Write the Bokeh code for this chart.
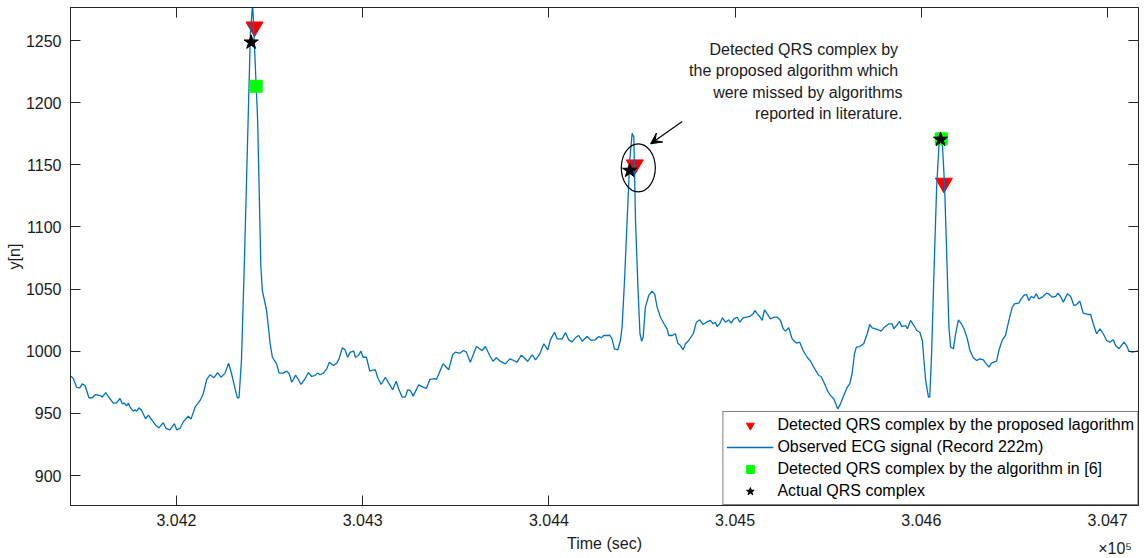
from bokeh.plotting import figure
from bokeh.models import (Range1d, FixedTicker, LinearAxis, Legend, LegendItem,
                          Label, Arrow, VeeHead)
from bokeh.embed import file_html
from bokeh.resources import INLINE

# ECG record 222m, observed samples
time_sec = [
    304143.4, 304144.6, 304146.4, 304148.2, 304149.4, 304150.9, 304153.0, 304154.8, 304156.6, 304159.0,
    304160.2, 304162.0, 304163.4, 304166.1, 304167.7, 304169.7, 304170.9, 304172.0, 304173.2, 304174.2,
    304175.1, 304176.8, 304177.8, 304178.6, 304179.9, 304181.3, 304183.4, 304184.9, 304186.7, 304188.8,
    304190.6, 304192.9, 304194.4, 304196.5, 304198.9, 304200.1, 304201.9, 304203.7, 304206.4, 304207.8,
    304210.0, 304212.7, 304214.4, 304216.2, 304218.0, 304220.2, 304222.1, 304223.9, 304226.1, 304228.0,
    304229.6, 304231.5, 304232.7, 304233.6, 304234.9, 304236.5, 304239.7, 304240.9, 304243.6, 304245.3,
    304246.1, 304248.4, 304250.3, 304251.5, 304253.8, 304255.1, 304257.4, 304259.2, 304260.5, 304261.9,
    304264.0, 304265.5, 304266.9, 304269.1, 304270.8, 304272.6, 304274.4, 304275.8, 304277.1, 304278.9,
    304280.7, 304282.1, 304284.3, 304286.0, 304287.3, 304289.1, 304290.5, 304291.9, 304293.4, 304295.2,
    304296.1, 304297.7, 304299.1, 304300.2, 304302.0, 304303.8, 304305.2, 304306.8, 304308.0, 304309.9,
    304312.2, 304314.0, 304316.1, 304318.0, 304319.3, 304321.2, 304322.9, 304324.2, 304325.6, 304327.1,
    304330.1, 304332.4, 304334.2, 304336.0, 304338.5, 304339.6, 304343.2, 304346.2, 304348.3, 304349.8,
    304352.1, 304354.2, 304355.7, 304357.8, 304361.1, 304364.1, 304365.9, 304368.2, 304370.0, 304371.8,
    304374.0, 304376.6, 304379.0, 304381.0, 304382.9, 304385.1, 304386.8, 304388.6, 304391.0, 304392.8,
    304395.1, 304397.3, 304399.4, 304400.8, 304403.0, 304404.4, 304407.1, 304408.9, 304410.6, 304412.5,
    304414.2, 304416.0, 304417.9, 304420.5, 304422.7, 304424.8, 304426.8, 304428.2, 304429.4, 304431.6,
    304432.7, 304433.9, 304435.2, 304437.0, 304438.4, 304439.3, 304440.6, 304442.0, 304443.4, 304444.7,
    304445.6, 304446.5, 304447.8, 304448.9, 304449.8, 304450.6, 304451.8, 304453.6, 304455.4, 304456.8,
    304458.1, 304459.9, 304462.0, 304463.5, 304464.3, 304466.2, 304467.9, 304469.2, 304470.6, 304472.1,
    304473.3, 304475.1, 304477.5, 304479.2, 304481.0, 304482.8, 304484.6, 304486.7, 304488.2, 304489.4,
    304490.3, 304491.7, 304493.2, 304494.8, 304496.6, 304497.9, 304499.3, 304501.1, 304502.5, 304504.3,
    304506.1, 304507.9, 304509.7, 304510.6, 304511.9, 304513.2, 304514.5, 304515.8, 304517.2, 304519.0,
    304520.8, 304522.6, 304524.4, 304525.8, 304527.0, 304528.8, 304530.6, 304533.0, 304534.7, 304536.5,
    304538.7, 304540.5, 304542.2, 304544.9, 304546.2, 304548.0, 304549.7, 304551.2, 304553.0, 304555.1,
    304556.6, 304558.3, 304560.2, 304561.5, 304562.8, 304564.1, 304565.1, 304566.9, 304569.1, 304570.9,
    304572.3, 304573.6, 304575.4, 304576.5, 304578.4, 304580.2, 304582.5, 304584.3, 304585.2, 304586.7,
    304588.3, 304589.4, 304591.5, 304592.5, 304594.2, 304596.0, 304597.5, 304599.2, 304600.5, 304602.3,
    304603.8, 304604.5, 304605.5, 304606.8, 304608.2, 304609.5, 304610.4, 304611.3, 304612.5, 304613.6,
    304614.8, 304615.7, 304617.2, 304618.4, 304619.9, 304621.5, 304622.9, 304624.7, 304626.1, 304627.9,
    304629.7, 304631.4, 304633.3, 304634.5, 304636.3, 304637.6, 304639.0, 304640.4, 304641.6, 304643.4,
    304645.2, 304647.0, 304648.8, 304650.0, 304652.3, 304653.6, 304655.0, 304656.5, 304657.7, 304659.0,
    304660.4, 304661.7, 304663.1, 304664.9, 304667.2, 304668.5, 304670.3, 304672.1, 304673.3, 304674.8,
    304676.2, 304678.4, 304680.2, 304681.9, 304683.3, 304685.1, 304686.9, 304689.4, 304690.9, 304692.3,
    304694.1, 304695.9, 304697.7, 304699.5, 304701.2, 304703.1, 304704.3, 304706.1, 304708.8, 304710.2,
    304711.5, 304713.3, 304716.0, 304717.4,
]
ecg_value = [
    980.0, 978.0, 971.0, 970.6, 973.8, 972.5, 962.6, 962.6, 965.2, 964.4,
    963.1, 966.8, 963.6, 958.2, 958.2, 962.0, 957.7, 958.2, 956.1, 958.2,
    955.0, 951.8, 952.9, 951.8, 954.5, 952.4, 945.7, 948.6, 944.9, 940.5,
    938.4, 942.5, 937.9, 936.8, 941.7, 936.8, 937.9, 943.3, 947.8, 945.4,
    955.0, 960.4, 965.8, 977.1, 981.1, 978.7, 982.9, 979.1, 982.4, 990.4,
    981.9, 969.8, 962.6, 962.6, 992.6, 1073.0, 1255.7, 1280.0, 1185.7, 1069.0,
    1048.9, 1032.8, 1006.3, 995.2, 989.9, 982.4, 982.4, 984.0, 982.1, 975.1,
    980.8, 977.1, 973.3, 977.9, 982.9, 979.7, 980.5, 982.4, 981.1, 982.4,
    985.9, 991.2, 988.6, 990.4, 993.9, 1002.8, 1001.2, 995.2, 999.3, 1000.1,
    995.2, 996.6, 1000.1, 995.2, 995.2, 984.0, 984.8, 985.1, 979.1, 973.3,
    979.1, 974.3, 969.0, 975.9, 969.8, 963.1, 963.1, 969.0, 968.4, 963.9,
    973.0, 971.1, 970.1, 977.1, 977.9, 977.3, 989.9, 985.1, 997.2, 999.3,
    998.4, 1000.6, 999.3, 991.2, 1003.8, 1000.6, 1003.8, 996.6, 992.0, 994.8,
    991.8, 989.9, 993.9, 992.6, 991.2, 996.8, 994.8, 991.8, 997.2, 993.1,
    998.0, 1006.0, 1001.2, 1009.2, 1015.3, 1010.0, 1010.0, 1015.1, 1009.2, 1007.6,
    1010.8, 1012.7, 1008.1, 1011.9, 1008.7, 1009.2, 1011.9, 1010.8, 1012.7, 1012.7,
    1012.9, 1010.0, 1002.0, 1001.2, 1008.7, 1019.4, 1056.9, 1105.2, 1153.5, 1175.4,
    1172.2, 1105.2, 1051.6, 1014.1, 1008.1, 1011.3, 1035.5, 1044.9, 1048.3, 1046.2,
    1035.5, 1027.4, 1021.5, 1018.1, 1012.7, 1012.7, 1014.1, 1006.5, 1004.6, 1001.2,
    1006.0, 1008.7, 1014.1, 1023.4, 1025.3, 1021.5, 1023.4, 1024.8, 1022.1, 1023.4,
    1019.9, 1022.1, 1026.9, 1023.4, 1025.3, 1022.6, 1026.1, 1027.4, 1023.4, 1026.9,
    1027.4, 1028.0, 1030.1, 1032.8, 1030.1, 1028.0, 1024.8, 1033.4, 1030.1, 1026.1,
    1027.4, 1027.4, 1024.8, 1018.1, 1016.2, 1018.9, 1010.0, 1006.5, 1007.3, 1000.6,
    995.2, 992.0, 987.2, 980.5, 979.7, 973.8, 967.9, 964.4, 961.8, 953.7,
    957.7, 964.4, 971.1, 973.8, 981.9, 998.0, 1003.3, 1003.8, 1006.2, 1014.1,
    1021.5, 1018.9, 1018.1, 1017.5, 1016.2, 1019.4, 1022.1, 1022.1, 1018.1, 1020.7,
    1024.0, 1019.9, 1020.7, 1018.1, 1024.8, 1020.7, 1016.7, 1015.3, 1008.7, 976.5,
    963.1, 963.1, 998.0, 1065.0, 1132.0, 1166.9, 1172.0, 1166.9, 1132.0, 1078.4,
    1019.4, 1003.3, 1002.0, 1014.1, 1025.3, 1022.1, 1018.1, 1010.0, 1000.6, 994.8,
    992.6, 993.9, 993.1, 990.4, 987.2, 990.4, 991.2, 992.0, 1000.6, 1008.7,
    1012.7, 1024.8, 1035.5, 1038.2, 1038.7, 1042.2, 1044.9, 1045.7, 1040.8, 1044.1,
    1043.0, 1046.2, 1042.2, 1043.5, 1046.7, 1046.2, 1043.5, 1044.1, 1046.7, 1044.1,
    1039.5, 1046.2, 1044.1, 1036.8, 1037.6, 1040.3, 1030.6, 1029.6, 1029.6, 1022.1,
    1014.1, 1018.1, 1014.1, 1008.7, 1007.3, 1009.2, 1004.6, 1002.0, 1007.3, 1004.6,
    1000.1, 999.3, 1000.1, 999.3,
]

# QRS detections
proposed_t = [304241.9, 304446.1, 304612.1]
proposed_y = [1261.0, 1150.0, 1135.3]
ref6_t = [304242.8, 304610.7]
ref6_y = [1213.2, 1170.9]
actual_t = [304240.1, 304443.4, 304610.3]
actual_y = [1248.6, 1145.4, 1170.4]

# axes
x_ticks = [304200, 304300, 304400, 304500, 304600, 304700]
x_tick_labels = ["3.042", "3.043", "3.044", "3.045", "3.046", "3.047"]
y_ticks = [900, 950, 1000, 1050, 1100, 1150, 1200, 1250]
x_lim = (304143.1, 304716.6)
y_lim = (875.9, 1276.6)
x_exponent_pos = 304704
x_exponent_text = "\u00d710\u2075"

FONT = "Liberation Sans"
AXIS_COLOR = "#262626"
TEXT_COLOR = "#1a1a1a"
LINE_BLUE = "#0072BD"

p = figure(width=1147, height=558, output_backend="svg", toolbar_location=None,
           x_range=Range1d(*x_lim), y_range=Range1d(*y_lim),
           min_border_left=70, min_border_right=9, min_border_top=7, min_border_bottom=53)
p.grid.visible = False
p.background_fill_color = "white"
p.border_fill_color = "white"
p.outline_line_color = AXIS_COLOR
p.outline_line_width = 1


def style_axis(ax, show_labels):
    ax.axis_line_color = AXIS_COLOR
    ax.axis_line_width = 1
    ax.major_tick_line_color = AXIS_COLOR
    ax.major_tick_in = 10
    ax.major_tick_out = 0
    ax.minor_tick_line_color = None
    if show_labels:
        ax.major_label_text_font = FONT
        ax.major_label_text_font_size = "16px"
        ax.major_label_text_color = TEXT_COLOR
        ax.axis_label_text_font = FONT
        ax.axis_label_text_font_size = "16px"
        ax.axis_label_text_font_style = "normal"
        ax.axis_label_text_color = TEXT_COLOR
    else:
        ax.major_label_text_font_size = "0px"
        ax.major_label_text_color = None
        ax.major_label_standoff = 0


xt = FixedTicker(ticks=x_ticks)
yt = FixedTicker(ticks=y_ticks)

x_main = p.below[0]
y_main = p.left[0]
style_axis(x_main, True)
style_axis(y_main, True)
x_main.ticker = xt
x_main.major_label_overrides = {t: s for t, s in zip(x_ticks, x_tick_labels)}
x_main.major_label_standoff = 8
y_main.ticker = yt
y_main.axis_label = "y[n]"
y_main.major_label_standoff = 9
y_main.axis_label_standoff = 0

# box ticks on top and right
top_ax = LinearAxis(ticker=xt)
right_ax = LinearAxis(ticker=yt)
style_axis(top_ax, False)
style_axis(right_ax, False)
p.add_layout(top_ax, "above")
p.add_layout(right_ax, "right")

# second bottom row: axis title and the x10^5 exponent on one line
x_title = LinearAxis(ticker=FixedTicker(ticks=[x_exponent_pos]),
                     major_label_overrides={x_exponent_pos: x_exponent_text})
style_axis(x_title, True)
x_title.axis_line_color = None
x_title.major_tick_line_color = None
x_title.major_label_text_font_size = "16px"
x_title.major_label_standoff = 11
x_title.axis_label = "Time (sec)"
x_title.axis_label_standoff = -25
p.add_layout(x_title, "below")

# series, in plotting order
r_prop = p.scatter(proposed_t, proposed_y, marker="inverted_triangle", size=17,
                   fill_color="#FF0000", line_color="#FF0000")
r_ecg = p.line(time_sec, ecg_value, line_color=LINE_BLUE, line_width=1.3)
r_ref6 = p.scatter(ref6_t, ref6_y, marker="square", size=12,
                   fill_color="#00FF00", line_color="#00FF00")
r_act = p.scatter(actual_t, actual_y, marker="star", size=15,
                  fill_color="black", line_color="black")

legend = Legend(items=[
    LegendItem(label="Detected QRS complex by the proposed lagorithm", renderers=[r_prop]),
    LegendItem(label="Observed ECG signal (Record 222m)", renderers=[r_ecg]),
    LegendItem(label="Detected QRS complex by the algorithm in [6]", renderers=[r_ref6]),
    LegendItem(label="Actual QRS complex", renderers=[r_act]),
], location="bottom_right", margin=0, padding=3, spacing=2,
    glyph_width=47, glyph_height=20, label_height=20, label_standoff=4,
    label_text_font=FONT, label_text_font_size="16px", label_text_color="#000000",
    border_line_color="black", border_line_width=1, background_fill_alpha=1.0)
p.add_layout(legend)

# callout for the beat missed by the literature methods
p.ellipse(x=[304448.0], y=[1147.6], width=34, height=48,
          width_units="screen", height_units="screen",
          fill_color=None, line_color="black", line_width=1.2)
p.add_layout(Arrow(end=VeeHead(size=11, fill_color="black", line_color="black"),
                   x_start=304471.6, y_start=1184.9, x_end=304454.6, y_end=1166.9,
                   line_color="black", line_width=1.2))

note_lines = ["Detected QRS complex by", "the proposed algorithm which",
              "were missed by algorithms", "reported in literature."]
note_x = [304587.5, 304587.5, 304589.9, 304589.9]
note_y = [1242.8, 1225.9, 1208.4, 1191.5]
for txt, nx, ny in zip(note_lines, note_x, note_y):
    p.add_layout(Label(x=nx, y=ny, text=txt, text_align="right", text_baseline="middle",
                       text_font=FONT, text_font_size="16px", text_color=TEXT_COLOR))

open("out.html", "w").write(file_html(p, INLINE))
